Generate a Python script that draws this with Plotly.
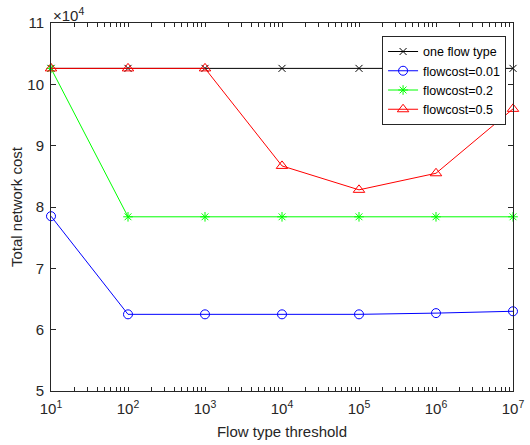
import plotly.graph_objects as go

thresholds = [1e1, 1e2, 1e3, 1e4, 1e5, 1e6, 1e7]
one_flow = [102600, 102600, 102600, 102600, 102600, 102600, 102600]
fc_001 = [78500, 62500, 62500, 62500, 62500, 62700, 63000]
fc_02 = [102600, 78400, 78400, 78400, 78400, 78400, 78400]
fc_05 = [102600, 102600, 102600, 86700, 82800, 85500, 96000]

series = [
    ("one flow type", one_flow, "black", "x-thin-open", 7),
    ("flowcost=0.01", fc_001, "blue", "circle-open", 9),
    ("flowcost=0.2", fc_02, "#00ff00", "asterisk-open", 8),
    ("flowcost=0.5", fc_05, "red", "triangle-up-open", 10),
]

fig = go.Figure()
for name, vals, col, sym, sz in series:
    fig.add_trace(go.Scatter(
        x=thresholds, y=vals, name=name, mode="lines+markers",
        line=dict(color=col, width=1),
        marker=dict(symbol=sym, size=sz, color=col, line=dict(color=col, width=1)),
        cliponaxis=False,
    ))

xt = []
xtext = []
for k in range(1, 7):
    for m in range(1, 10):
        xt.append(m * 10 ** k)
        xtext.append(f"10<sup>{k}</sup>" if m == 1 else "")
xt.append(1e7)
xtext.append("10<sup>7</sup>")

yvals = [50000, 60000, 70000, 80000, 90000, 100000, 110000]
ytext = ["5", "6", "7", "8", "9", "10", "11"]

font = "Liberation Sans, Arial, sans-serif"
fig.update_layout(
    width=530, height=445,
    margin=dict(l=51, r=17, t=23, b=54),
    plot_bgcolor="white", paper_bgcolor="white",
    font=dict(family=font, size=15, color="#262626"),
    showlegend=True,
    legend=dict(x=0.985, y=0.965, xanchor="right", yanchor="top",
                bgcolor="white", bordercolor="#262626", borderwidth=1,
                font=dict(size=12.5, color="black"), tracegroupgap=0,
                itemwidth=30),
    xaxis=dict(type="log", range=[1, 7], tickvals=xt, ticktext=xtext,
               ticks="inside", ticklen=4, tickcolor="#262626",
               showline=True, linecolor="#262626", linewidth=1, mirror="ticks",
               showgrid=False, zeroline=False, ticklabelstandoff=4,
               tickfont=dict(size=15), automargin=False,
               title=dict(text="Flow type threshold", font=dict(size=15), standoff=10)),
    yaxis=dict(range=[50000, 110000], tickvals=yvals, ticktext=ytext,
               ticks="inside", ticklen=5, tickcolor="#262626",
               showline=True, linecolor="#262626", linewidth=1, mirror="ticks",
               showgrid=False, zeroline=False, ticklabelstandoff=3,
               tickfont=dict(size=15), automargin=False,
               title=dict(text="Total network cost", font=dict(size=15), standoff=1)),
)
fig.add_annotation(text="×10<sup>4</sup>", xref="paper", yref="paper", x=0, y=1,
                   xanchor="left", yanchor="bottom", showarrow=False,
                   font=dict(size=15, color="#262626"), yshift=-3)

fig.write_html("out.html")
